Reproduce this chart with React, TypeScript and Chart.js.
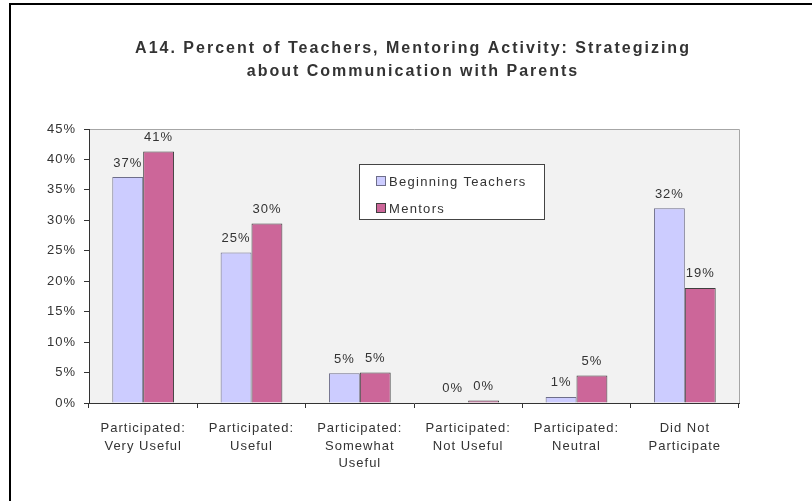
import React, { useEffect, useRef } from "react";
import { Chart, registerables } from "chart.js";

Chart.register(...registerables);

const titleLines = [
  "A14. Percent of Teachers, Mentoring Activity: Strategizing",
  "about Communication with Parents",
];
const categories: string[][] = [
  ["Participated:", "Very Useful"],
  ["Participated:", "Useful"],
  ["Participated:", "Somewhat", "Useful"],
  ["Participated:", "Not Useful"],
  ["Participated:", "Neutral"],
  ["Did Not", "Participate"],
];
const seriesNames = ["Beginning Teachers", "Mentors"];
const beginningTeachers = [37.1, 24.7, 4.9, 0.1, 1.0, 32.0];
const mentors = [41.3, 29.5, 5.0, 0.4, 4.5, 18.9];
const yTicks = [0, 5, 10, 15, 20, 25, 30, 35, 40, 45];

const FONT = "'Liberation Sans', Arial, sans-serif";
const TEXT = "#333333";

const spacingPlugin = {
  id: "spacing",
  beforeLayout(chart: any) {
    chart.ctx.letterSpacing = "1px";
  },
  beforeDraw(chart: any) {
    chart.ctx.letterSpacing = "1px";
  },
};

const backgroundPlugin = {
  id: "bgPlot",
  beforeDraw(chart: any) {
    const { ctx, chartArea: a } = chart;
    ctx.save();
    ctx.fillStyle = "#ffffff";
    ctx.fillRect(0, 0, chart.width, chart.height);
    ctx.fillStyle = "#f2f2f2";
    ctx.fillRect(a.left, a.top, a.right - a.left, a.bottom - a.top);
    ctx.strokeStyle = "#a6a6a6";
    ctx.lineWidth = 1;
    ctx.beginPath();
    ctx.moveTo(a.left, a.top + 0.5);
    ctx.lineTo(a.right + 0.5, a.top + 0.5);
    ctx.lineTo(a.right + 0.5, a.bottom);
    ctx.stroke();
    // outer frame
    ctx.strokeStyle = "#000000";
    ctx.lineWidth = 2;
    ctx.strokeRect(10, 4, chart.width + 20, chart.height + 20);
    // title
    ctx.letterSpacing = "2px";
    ctx.font = `bold 16px ${FONT}`;
    ctx.fillStyle = TEXT;
    ctx.textAlign = "center";
    ctx.textBaseline = "middle";
    titleLines.forEach((line, i) => {
      ctx.fillText(line, 413, 49 + i * 22.5);
    });
    ctx.restore();
  },
};

const labelsPlugin = {
  id: "valueLabels",
  afterDatasetsDraw(chart: any) {
    const { ctx } = chart;
    ctx.save();
    ctx.letterSpacing = "1px";
    ctx.font = `13px ${FONT}`;
    ctx.fillStyle = TEXT;
    ctx.textAlign = "center";
    ctx.textBaseline = "middle";
    chart.data.datasets.forEach((ds: any, i: number) => {
      const meta = chart.getDatasetMeta(i);
      meta.data.forEach((bar: any, j: number) => {
        const v = ds.data[j];
        ctx.fillText(`${Math.round(v)}%`, bar.x, bar.y - 14);
      });
    });
    ctx.restore();
  },
};

const legendPlugin = {
  id: "boxLegend",
  afterDraw(chart: any) {
    const { ctx } = chart;
    const x = 359;
    const y = 164;
    const w = 185;
    const h = 55;
    ctx.save();
    ctx.letterSpacing = "1.3px";
    ctx.fillStyle = "#ffffff";
    ctx.fillRect(x, y, w, h);
    ctx.strokeStyle = "#444444";
    ctx.lineWidth = 1;
    ctx.strokeRect(x + 0.5, y + 0.5, w, h);
    ctx.font = `13px ${FONT}`;
    ctx.textBaseline = "middle";
    ctx.textAlign = "left";
    chart.data.datasets.forEach((ds: any, i: number) => {
      const cy = y + 17 + i * 27;
      ctx.fillStyle = ds.backgroundColor;
      ctx.fillRect(376.5, cy - 4.5, 9, 9);
      ctx.strokeStyle = ds.borderColor;
      ctx.strokeRect(376.5, cy - 4.5, 9, 9);
      ctx.fillStyle = TEXT;
      ctx.fillText(ds.label, 389, cy + 1);
    });
    ctx.restore();
  },
};

export default function App() {
  const ref = useRef<HTMLCanvasElement>(null);
  useEffect(() => {
    if (!ref.current) return;
    Chart.defaults.font.family = FONT;
    const chart = new Chart(ref.current, {
      type: "bar",
      data: {
        labels: categories,
        datasets: [
          {
            label: seriesNames[0],
            data: beginningTeachers,
            backgroundColor: "#ccccff",
            borderColor: "#6e6e8a",
            borderWidth: 1,
          },
          {
            label: seriesNames[1],
            data: mentors,
            backgroundColor: "#cc6699",
            borderColor: "#3f3f3f",
            borderWidth: 1,
          },
        ],
      },
      options: {
        responsive: false,
        animation: false,
        layout: { padding: { left: 0, right: 73, top: 129, bottom: 0 } },
        datasets: {
          bar: { categoryPercentage: 0.57, barPercentage: 1 },
        },
        plugins: {
          legend: { display: false },
          tooltip: { enabled: false },
          title: { display: false },
        },
        scales: {
          x: {
            grid: {
              display: true,
              drawOnChartArea: false,
              drawTicks: true,
              tickLength: 5,
              tickColor: "#333333",
              offset: true,
            },
            border: { display: true, color: "#333333", width: 1 },
            ticks: {
              color: TEXT,
              font: { size: 13, family: FONT, lineHeight: 17.5 / 13 },
              padding: 12,
              maxRotation: 0,
              autoSkip: false,
            },
            afterFit(scale: any) {
              scale.height = 98;
            },
          },
          y: {
            min: 0,
            max: 45,
            afterBuildTicks(scale: any) {
              scale.ticks = yTicks.map((v) => ({ value: v }));
            },
            grid: {
              display: true,
              drawOnChartArea: false,
              drawTicks: true,
              tickLength: 5,
              tickColor: "#333333",
            },
            border: { display: true, color: "#333333", width: 1 },
            ticks: {
              color: TEXT,
              font: { size: 13, family: FONT },
              padding: 8,
              callback: (v: any) => `${v}%`,
            },
            afterFit(scale: any) {
              scale.width = 89;
            },
          },
        },
      },
      plugins: [spacingPlugin, backgroundPlugin, labelsPlugin, legendPlugin],
    });
    return () => chart.destroy();
  }, []);
  return (
    <div style={{ position: "fixed", left: 0, top: 0, width: 812, height: 501, background: "#fff" }}>
      <canvas ref={ref} width={812} height={501} style={{ display: "block", width: 812, height: 501 }} />
    </div>
  );
}
